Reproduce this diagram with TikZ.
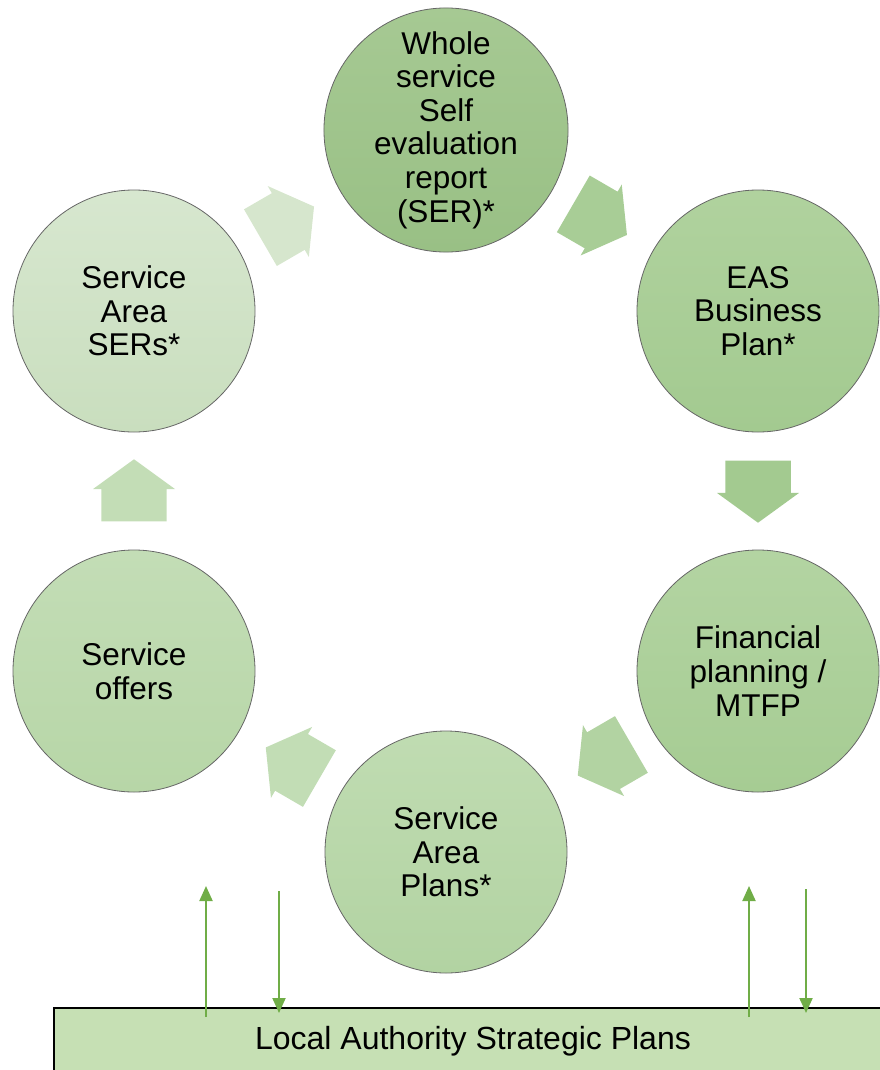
\documentclass[tikz,border=0pt]{standalone}
\usepackage{fontspec}
\setmainfont{Liberation Sans}
\usetikzlibrary{shapes.arrows,arrows.meta}

\definecolor{cserA}{HTML}{A6C993}
\definecolor{cserB}{HTML}{99C085}
\definecolor{ceasA}{HTML}{B0D29E}
\definecolor{ceasB}{HTML}{A3CA90}
\definecolor{cfinA}{HTML}{B3D4A2}
\definecolor{cfinB}{HTML}{A6CC93}
\definecolor{cplaA}{HTML}{C0DCB2}
\definecolor{cplaB}{HTML}{B2D3A2}
\definecolor{coffA}{HTML}{C3DDB6}
\definecolor{coffB}{HTML}{B7D6A7}
\definecolor{csarA}{HTML}{D7E7CF}
\definecolor{csarB}{HTML}{C9DEBE}
\definecolor{lagreen}{HTML}{70AD47}
\definecolor{labox}{HTML}{C6E0B4}

\begin{document}
\begin{tikzpicture}[x=1pt,y=-1pt]
        \useasboundingbox (0,0) rectangle (880,1070);

        \begin{scope}[every node/.style={circle, draw=black!60, line width=.8pt, minimum size=242pt, inner sep=0pt, align=center, font=\fontsize{31.5}{33.6}\selectfont}]
          \node[top color=cserA, bottom color=cserB] (ser) at (446,130) {Whole\\service\\Self\\evaluation\\report\\(SER)*};
          \node[top color=ceasA, bottom color=ceasB] (eas) at (758,311) {EAS\\Business\\Plan*};
          \node[top color=cfinA, bottom color=cfinB] (fin) at (758,671) {Financial\\planning /\\MTFP};
          \node[top color=cplaA, bottom color=cplaB] (pla) at (446,852) {Service\\Area\\Plans*};
          \node[top color=coffA, bottom color=coffB] (off) at (134,671) {Service\\offers};
          \node[top color=csarA, bottom color=csarB] (sar) at (134,311) {Service\\Area\\SERs*};
        \end{scope}

        \begin{scope}[every node/.style={single arrow, draw=none, anchor=tail, minimum height=62pt, minimum width=82pt, inner sep=0pt, inner ysep=28pt, single arrow tip angle=108, sloped, allow upside down}]
          \path (ser) -- node[pos=.21, fill=ceasB!95] {} (eas);
          \path (eas) -- node[pos=.24, fill=ceasB] {} (fin);
          \path (fin) -- node[pos=.21, fill=cplaB] {} (pla);
          \path (pla) -- node[pos=.21, fill=coffA!95!cplaB] {} (off);
          \path (off) -- node[pos=.24, fill=coffA] {} (sar);
          \path (sar) -- node[pos=.21, fill=csarA!90!csarB] {} (ser);
        \end{scope}

        % box runs off the right edge of the page
        \node[draw, line width=2pt, fill=labox, minimum width=920pt, minimum height=66pt, anchor=north west] (las) at (53,1007) {};
        \node[font=\fontsize{32}{34}\selectfont] (las text) at (473,1041) {Local Authority Strategic Plans};

        \coordinate (up1 bot) at (206,1017);
        \coordinate (up1 top) at (206,886);
        \coordinate (dn1 top) at (279,891);
        \coordinate (dn1 bot) at (279,1013);
        \coordinate (up2 bot) at (749,1017);
        \coordinate (up2 top) at (749,886);
        \coordinate (dn2 top) at (806,889);
        \coordinate (dn2 bot) at (806,1013);

        \begin{scope}[lagreen, line width=2pt, -{Triangle[width=13pt,length=15pt]}]
          \draw (up1 bot) -- (up1 top);
          \draw (dn1 top) -- (dn1 bot);
          \draw (up2 bot) -- (up2 top);
          \draw (dn2 top) -- (dn2 bot);
        \end{scope}

      \end{tikzpicture}
\end{document}
